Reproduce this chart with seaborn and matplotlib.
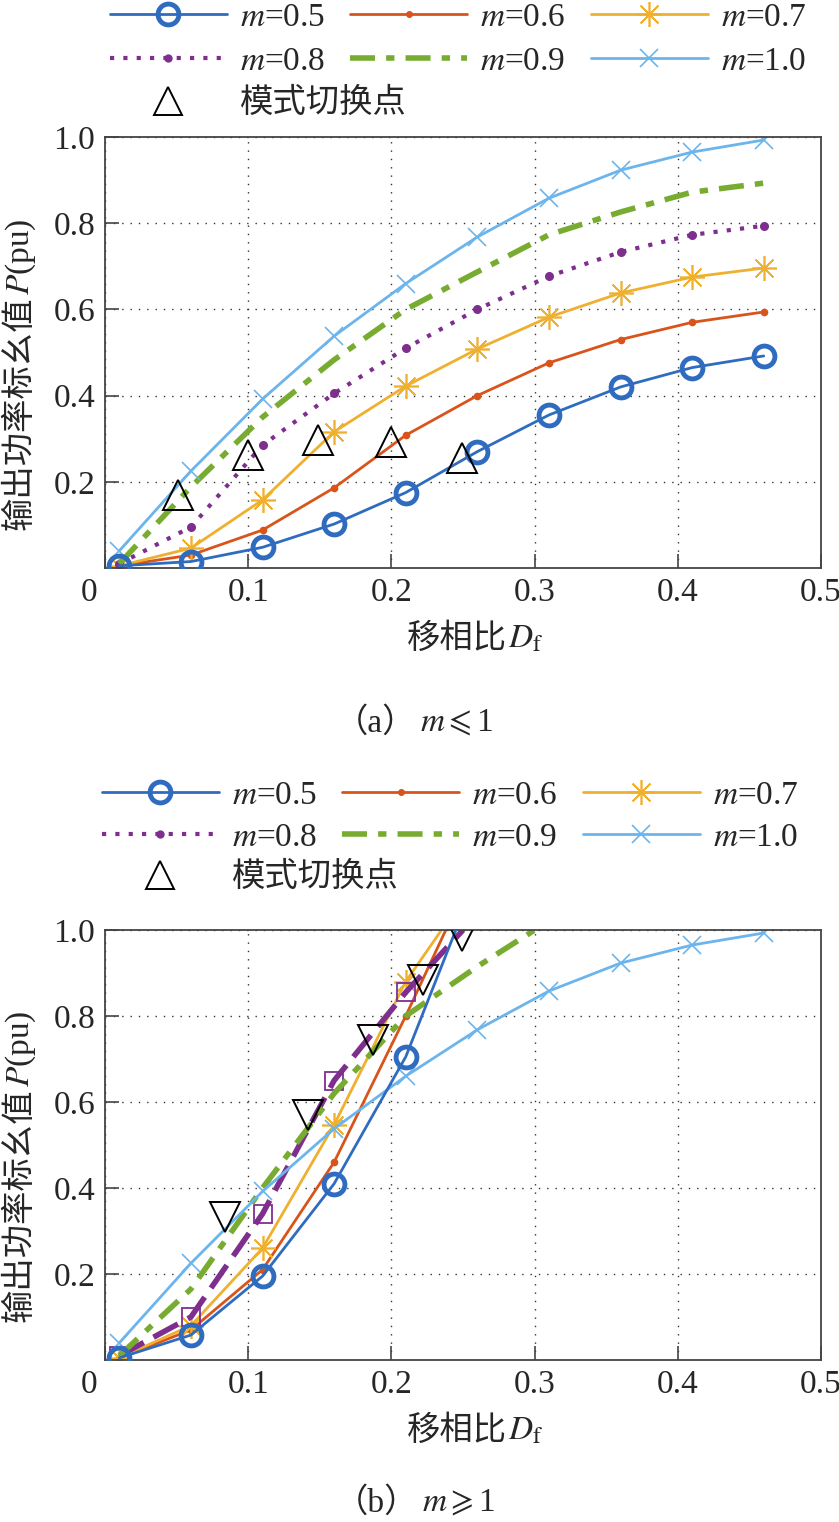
import matplotlib
matplotlib.use("Agg")
import matplotlib.pyplot as plt
from matplotlib.lines import Line2D
from matplotlib.transforms import ScaledTranslation
import seaborn as sns

sns.set_style("white")
plt.rcParams['font.family'] = ['Liberation Serif', 'Noto Sans CJK SC', 'DejaVu Sans']
plt.rcParams['mathtext.fontset'] = 'stix'
plt.rcParams['axes.unicode_minus'] = False

# ---------------- data ----------------
labels = ["$m$=0.5", "$m$=0.6", "$m$=0.7", "$m$=0.8", "$m$=0.9", "$m$=1.0"]
switch_label = "模式切换点"
ylabel_cn, ylabel_sym = "输出功率标幺值", "$P$(pu)"
xlabel_cn, xlabel_sym = "移相比", "$D_\\mathrm{f}$"
cap_a = ("（a）", "$m\\leqslant$1")
cap_b = ("（b）", "$m\\geqslant$1")

# (a) m <= 1
xa = [0.01, 0.06, 0.11, 0.16, 0.21, 0.26, 0.31, 0.36, 0.41, 0.46]
pa_05 = [0.005, 0.015, 0.048, 0.102, 0.175, 0.27, 0.355, 0.42, 0.465, 0.492]
pa_06 = [0.005, 0.03, 0.088, 0.186, 0.308, 0.40, 0.476, 0.53, 0.57, 0.594]
pa_07 = [0.005, 0.046, 0.158, 0.316, 0.422, 0.508, 0.582, 0.638, 0.675, 0.696]
pa_08 = [0.01, 0.095, 0.285, 0.405, 0.51, 0.60, 0.677, 0.733, 0.773, 0.794]
pa_09 = [0.01, 0.188, 0.35, 0.483, 0.60, 0.687, 0.773, 0.826, 0.872, 0.893]
pa_10 = [0.04, 0.225, 0.392, 0.538, 0.66, 0.768, 0.858, 0.923, 0.965, 0.993]
sw_a_x = [0.051, 0.10, 0.149, 0.20, 0.249]
sw_a_y = [0.17, 0.262, 0.297, 0.293, 0.255]

# (b) m >= 1
xb_05 = [0.01, 0.06, 0.11, 0.16, 0.21, 0.245]
pb_05 = [0.005, 0.058, 0.195, 0.41, 0.705, 1.0]
xb_06 = [0.01, 0.06, 0.11, 0.16, 0.21, 0.238]
pb_06 = [0.005, 0.07, 0.21, 0.46, 0.80, 1.0]
xb_07 = [0.01, 0.06, 0.11, 0.16, 0.21, 0.235]
pb_07 = [0.005, 0.08, 0.26, 0.547, 0.88, 1.0]
xb_08 = [0.01, 0.06, 0.11, 0.16, 0.21, 0.25]
pb_08 = [0.01, 0.10, 0.34, 0.65, 0.855, 1.0]
xb_09 = [0.01, 0.06, 0.11, 0.16, 0.21, 0.26, 0.30]
pb_09 = [0.01, 0.165, 0.40, 0.62, 0.80, 0.915, 1.0]
xb_10 = xa
pb_10 = [0.04, 0.225, 0.392, 0.538, 0.66, 0.768, 0.858, 0.923, 0.965, 0.993]
sw_b_x = [0.084, 0.142, 0.187, 0.222, 0.249]
sw_b_y = [0.333, 0.57, 0.744, 0.884, 0.985]

xticks = [0, 0.1, 0.2, 0.3, 0.4, 0.5]
xticklabels = ["0", "0.1", "0.2", "0.3", "0.4", "0.5"]
yticks = [0.2, 0.4, 0.6, 0.8, 1.0]
yticklabels = ["0.2", "0.4", "0.6", "0.8", "1.0"]

# ---------------- style ----------------
C05, C06, C07, C08, C09, C10 = '#2f6cc0', '#d9541a', '#efb02f', '#7e2f8e', '#77ac30', '#6cb4ec'

W, H = 839, 1522
fig = plt.figure(figsize=(W / 100, H / 100), dpi=100)
FS = 24
AX_L, AX_R = 105, 821


def fx(px):
    return px / W


def fy(py):
    return 1 - py / H


def line(ax, x, y, color, lw=1.6, ls='-', marker=None, ms=8, mfc=None, mew=1.5,
         markevery=None, z=2):
    kw = dict(color=color, linewidth=lw, linestyle=ls, estimator=None, sort=False,
              ax=ax, zorder=z, legend=False)
    if marker is not None:
        kw.update(marker=marker, markersize=ms,
                  markerfacecolor=(mfc if mfc is not None else color),
                  markeredgecolor=color, markeredgewidth=mew)
        if markevery is not None:
            kw['markevery'] = markevery
    else:
        kw.update(marker='', markeredgewidth=0, markeredgecolor=color)
    sns.lineplot(x=x, y=y, **kw)


def style_axes(ax, top_px, bot_px):
    ax.set_xlim(0, 0.5)
    ax.set_ylim(0, 1.0)
    ax.set_xticks(xticks)
    ax.set_xticklabels(xticklabels)
    ax.set_yticks(yticks)
    ax.set_yticklabels(yticklabels)
    ax.tick_params(direction='in', length=10, width=1.2, color='#444',
                   labelsize=FS, pad=7, top=False, right=False, bottom=True, left=True)
    for s in ax.spines.values():
        s.set_color('#444')
        s.set_linewidth(1.3)
        s.set_visible(True)
    ax.grid(True, linestyle=(0, (1, 5)), color='#333', linewidth=1.0)
    ax.set_axisbelow(True)
    lbl = ax.get_xticklabels()[0]
    lbl.set_transform(lbl.get_transform() + ScaledTranslation(-0.16, 0, fig.dpi_scale_trans))
    # y label: CJK part + symbol part chained
    t1 = fig.text(fx(20), fy(bot_px - 38), ylabel_cn, rotation=90, ha='center', va='bottom',
                  fontsize=FS)
    fig.texts.append(None) if False else None
    ax.annotate(ylabel_sym, xy=(0.5, 1), xycoords=t1, rotation=90, ha='center', va='bottom',
                xytext=(1, 1), textcoords='offset pixels', fontsize=FS, annotation_clip=False)
    # x label
    t2 = fig.text(fx(507), fy(bot_px + 71), xlabel_cn, ha='right', va='center', fontsize=FS)
    ax.annotate(xlabel_sym, xy=(1, 0), xycoords=t2, ha='left', va='baseline',
                xytext=(1, 7), textcoords='offset pixels', fontsize=FS, annotation_clip=False)


def add_legends(x_px, y_px, pitch):
    hs = [
        Line2D([], [], color=C05, lw=2, marker='o', ms=15, mfc='none', mew=3.5),
        Line2D([], [], color=C06, lw=2, marker='o', ms=4),
        Line2D([], [], color=C07, lw=2, marker=(8, 2, 0), ms=18, mew=1.2),
        Line2D([], [], color=C08, lw=3, ls=(0, (1, 2.2)), marker='o', ms=5),
        Line2D([], [], color=C09, lw=4, ls=(0, (4.5, 2, 1.5, 2))),
        Line2D([], [], color=C10, lw=2, marker='x', ms=13, mew=1.2),
    ]
    order = [0, 3, 1, 4, 2, 5]
    fig.legend([hs[i] for i in order], [labels[i] for i in order], ncol=3, loc='upper left',
               bbox_to_anchor=(fx(x_px), fy(y_px)), bbox_transform=fig.transFigure,
               frameon=False, fontsize=FS, handlelength=3.5, handletextpad=0.4,
               columnspacing=0.75, labelspacing=(pitch - 29) / 33.0, borderpad=0,
               borderaxespad=0)
    tri = Line2D([], [], color='k', ls='none', marker='^', ms=20, mfc='none', mew=1.4)
    fig.legend([tri], [switch_label], loc='upper left',
               bbox_to_anchor=(fx(x_px), fy(y_px + 2 * pitch)), bbox_transform=fig.transFigure,
               frameon=False, fontsize=FS, handlelength=3.5, handletextpad=0.4,
               borderpad=0, borderaxespad=0)


def caption(parts, y_px):
    t1 = fig.text(fx(335), fy(y_px), parts[0], ha='left', va='center', fontsize=FS)
    fig.axes[0].annotate(parts[1], xy=(1, 0), xycoords=t1, ha='left', va='baseline',
                         xytext=(4, 7), textcoords='offset pixels', fontsize=FS,
                         annotation_clip=False)


# ---------------- (a) ----------------
A_TOP, A_BOT = 137, 568
ax1 = fig.add_axes([fx(AX_L), fy(A_BOT), (AX_R - AX_L) / W, (A_BOT - A_TOP) / H])
line(ax1, xa, pa_05, C05, lw=2, marker='o', ms=15, mfc='none', mew=3.5, z=3)
line(ax1, xa, pa_06, C06, lw=2, marker='o', ms=4)
line(ax1, xa, pa_07, C07, lw=2, marker=(8, 2, 0), ms=18, mew=1.2)
line(ax1, xa, pa_08, C08, lw=3, ls=(0, (1, 2.2)), marker='o', ms=5)
line(ax1, xa, pa_09, C09, lw=4, ls=(0, (4.5, 2, 1.5, 2)))
line(ax1, xa, pa_10, C10, lw=2, marker='x', ms=13, mew=1.2)
sns.lineplot(x=sw_a_x, y=sw_a_y, ax=ax1, linestyle='none', marker='^', markersize=22,
             markerfacecolor='none', markeredgecolor='k', markeredgewidth=1.4,
             color='k', estimator=None, sort=False, zorder=5, legend=False)
style_axes(ax1, A_TOP, A_BOT)
add_legends(110, 2, 43)
caption(cap_a, 723)

# ---------------- (b) ----------------
B_TOP, B_BOT = 930, 1360
ax2 = fig.add_axes([fx(AX_L), fy(B_BOT), (AX_R - AX_L) / W, (B_BOT - B_TOP) / H])
line(ax2, xb_05, pb_05, C05, lw=2, marker='o', ms=15, mfc='none', mew=3.5,
     markevery=[0, 1, 2, 3, 4], z=3)
line(ax2, xb_06, pb_06, C06, lw=2, marker='o', ms=4, markevery=[0, 1, 2, 3, 4])
line(ax2, xb_07, pb_07, C07, lw=2, marker=(8, 2, 0), ms=18, mew=1.2, markevery=[0, 1, 2, 3, 4])
line(ax2, xb_08, pb_08, C08, lw=4, ls=(0, (5, 2)), marker='s', ms=13, mfc='none', mew=1.3,
     markevery=[0, 1, 2, 3, 4])
line(ax2, xb_09, pb_09, C09, lw=4, ls=(0, (4.5, 2, 1.5, 2)))
line(ax2, xb_10, pb_10, C10, lw=2, marker='x', ms=13, mew=1.2)
sns.lineplot(x=sw_b_x, y=sw_b_y, ax=ax2, linestyle='none', marker='v', markersize=22,
             markerfacecolor='none', markeredgecolor='k', markeredgewidth=1.4,
             color='k', estimator=None, sort=False, zorder=5, legend=False)
style_axes(ax2, B_TOP, B_BOT)
add_legends(102, 780, 41)
caption(cap_b, 1503)

fig.savefig("out.png", dpi=100)
